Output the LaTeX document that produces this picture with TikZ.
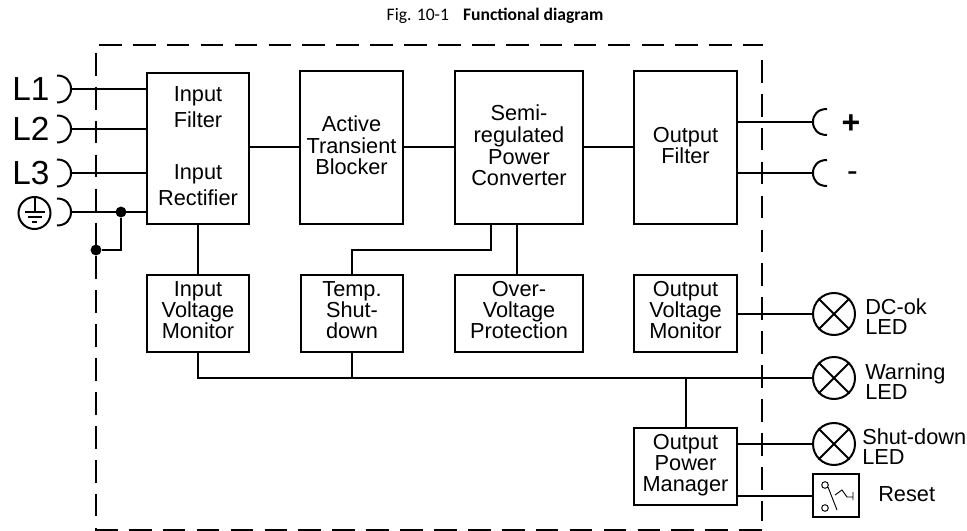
\documentclass[tikz,border=0pt]{standalone}
\usepackage{fontspec}
\usetikzlibrary{calc}
\setmainfont{Liberation Sans}
\newfontfamily\titlefont{Carlito}
\tikzset{
  wire/.style={line width=1.5pt},
  blockbox/.style={draw,line width=1.5pt,align=center,inner sep=0pt,text depth=3.2pt,font=\fontsize{16.3}{16.3}\selectfont},
  inputbox/.style={blockbox,text depth=3.7pt,font=\fontsize{16.3}{19.5}\selectfont},
  lowerbox/.style={blockbox,text depth=5.1pt,font=\fontsize{16.3}{15.6}\selectfont},
  lbl/.style={inner sep=0pt,align=left,font=\fontsize{16.3}{15}\selectfont},
  big/.style={inner sep=0pt,font=\fontsize{25}{25}\selectfont},
  dot/.style={circle,fill=black,inner sep=0pt,minimum size=8.2pt},
  lamp/.style={circle,draw,line width=1.5pt,inner sep=0pt,minimum size=31.5pt},
  boundary/.style={line width=1.5pt,dash pattern=on 17pt off 8.43pt},
  glyph/.style={line width=0.7pt},
}
\newcommand{\BLOCK}[7]{\node[#1,minimum width=#5*0.75pt-#3*0.75pt,minimum height=#6*0.75pt-#4*0.75pt] (#2) at ({(#3+#5)/2},{(#4+#6)/2}) {#7};}
\begin{document}
\begin{tikzpicture}[x=0.75pt,y=-0.75pt]
\useasboundingbox (0,0) rectangle (967,531);
\node[inner sep=0pt,font=\titlefont\fontsize{13.2}{15}\selectfont] (title) at (495,16) {Fig. 10-1\hspace{0.8em}\textbf{Functional diagram}};
% boundary
\draw[boundary] (99,45) -- (763,45);
\draw[boundary] (762,60) -- (762,521);
\draw[boundary] (96,53) -- (96,531);
\draw[boundary] (95,530) -- (763,530);
% blocks
\BLOCK{inputbox}{inf}{147}{73}{249}{224}{Input\\Filter\\[19.5pt]Input\\Rectifier}
\BLOCK{blockbox}{atb}{300}{71}{403}{224}{Active\\Transient\\Blocker}
\BLOCK{blockbox}{semi}{455}{71}{583}{224}{Semi-\\regulated\\Power\\Converter}
\BLOCK{blockbox}{ofl}{634}{71}{737}{224}{Output\\Filter}
\BLOCK{lowerbox}{ivm}{147}{275}{249}{352}{Input\\Voltage\\Monitor}
\BLOCK{lowerbox}{tmp}{301}{275}{403}{352}{Temp.\\Shut-\\down}
\BLOCK{lowerbox}{ovp}{455}{275}{583}{352}{Over-\\Voltage\\Protection}
\BLOCK{lowerbox}{ovm}{634}{275}{737}{352}{Output\\Voltage\\Monitor}
\BLOCK{lowerbox}{opm}{634}{428}{737}{505}{Output\\Power\\Manager}
% lamps
\node[lamp] (dcl) at (834,314) {};
\node[lamp] (wrn) at (834,378) {};
\node[lamp] (shd) at (834,444) {};
\foreach \l in {dcl,wrn,shd}{
  \draw[wire] (\l.45) -- (\l.225) (\l.135) -- (\l.315);
}
\node[draw,line width=1.5pt,minimum width=34.5pt,minimum height=32pt,inner sep=0pt] (rst) at (836,495.5) {};
% reset switch glyph
\draw[glyph] (825,485) circle (3.3);
\draw[glyph] (825,508) circle (3.3);
\draw[glyph] (828,487) -- (837,510);
\draw[glyph] (835,495) -- (842,490) -- (847,497) -- (853,497) (853,492) -- (853,500);
% terminal labels
\node[big,anchor=west] (l1) at (12,89) {L1};
\node[big,anchor=west] (l2) at (12,129) {L2};
\node[big,anchor=west] (l3) at (12,173) {L3};
\node[circle,draw,line width=1.5pt,minimum size=24pt,inner sep=0pt] (pe) at (34.5,213) {};
\draw[wire] (pe.north) -- +(0,15);
\draw[wire] (25,212) -- (45,212);
\draw[line width=1pt] (28,217) -- (42,217);
\draw[line width=0.8pt] (32,222) -- (37,222);
\node[inner sep=0pt,anchor=base,font=\fontsize{24}{24}\bfseries\selectfont] (plus) at (851,133.5) {+};
\node[inner sep=0pt,anchor=base,font=\fontsize{24}{24}\selectfont] (minus) at (852.5,181.6) {-};
\node[lbl,anchor=west] (t1) at (865,317) {DC-ok\\LED};
\node[lbl,anchor=west] (t2) at (865,381.5) {Warning\\LED};
\node[lbl,anchor=west] (t3) at (862,447) {Shut-down\\LED};
\node[lbl,anchor=west] (t4) at (878,494) {Reset};
% sockets
\coordinate (s1) at (71,89); \coordinate (s2) at (71,129); \coordinate (s3) at (71,173); \coordinate (s4) at (71,212);
\coordinate (sp) at (813,122); \coordinate (sm) at (813,173);
\foreach \s in {s1,s2,s3,s4}{
  \draw[wire] ($(\s)+(-14,-13.5)$) .. controls +(9,0) and +(0,-7.5) .. (\s) .. controls +(0,7.5) and +(9,0) .. ($(\s)+(-14,13.5)$);
}
\foreach \s in {sp,sm}{
  \draw[wire] ($(\s)+(14,-13)$) .. controls +(-9,0) and +(0,-7.5) .. (\s) .. controls +(0,7.5) and +(-9,0) .. ($(\s)+(14,13)$);
}
% connectors
\foreach \s in {s1,s2,s3,s4}{ \draw[wire] (\s) -- (inf.west |- \s); }
\foreach \s in {sp,sm}{ \draw[wire] (ofl.east |- \s) -- (\s); }
\node[dot] (d1) at (121,212) {};
\node[dot] (d2) at (96,250) {};
\draw[wire] (d1) -- (d1 |- d2) -- (d2);
\coordinate (midy) at (0,147);
\coordinate (sa) at (491,224); \coordinate (sb) at (517,224);
\coordinate (sc) at (491,250); \coordinate (sd) at (352,250);
\coordinate (se) at (517,275);
\draw[wire] (inf.east |- midy) -- (atb.west |- midy);
\draw[wire] (atb.east |- midy) -- (semi.west |- midy);
\draw[wire] (semi.east |- midy) -- (ofl.west |- midy);
\draw[wire] (inf.south) -- (ivm.north);
\draw[wire] (sa) -- (sc) -- (sd) -- (tmp.north);
\draw[wire] (sb) -- (se);
\draw[wire] (ovm.east |- dcl.west) -- (dcl.west);
\draw[wire] (ivm.south) |- (wrn.west);
\draw[wire] (tmp.south) -- (tmp.south |- wrn.west);
\draw[wire] (opm.north) -- (opm.north |- wrn.west);
\draw[wire] (opm.east |- shd.west) -- (shd.west);
\draw[wire] (opm.east |- rst.west) -- (rst.west);
\end{tikzpicture}
\end{document}
